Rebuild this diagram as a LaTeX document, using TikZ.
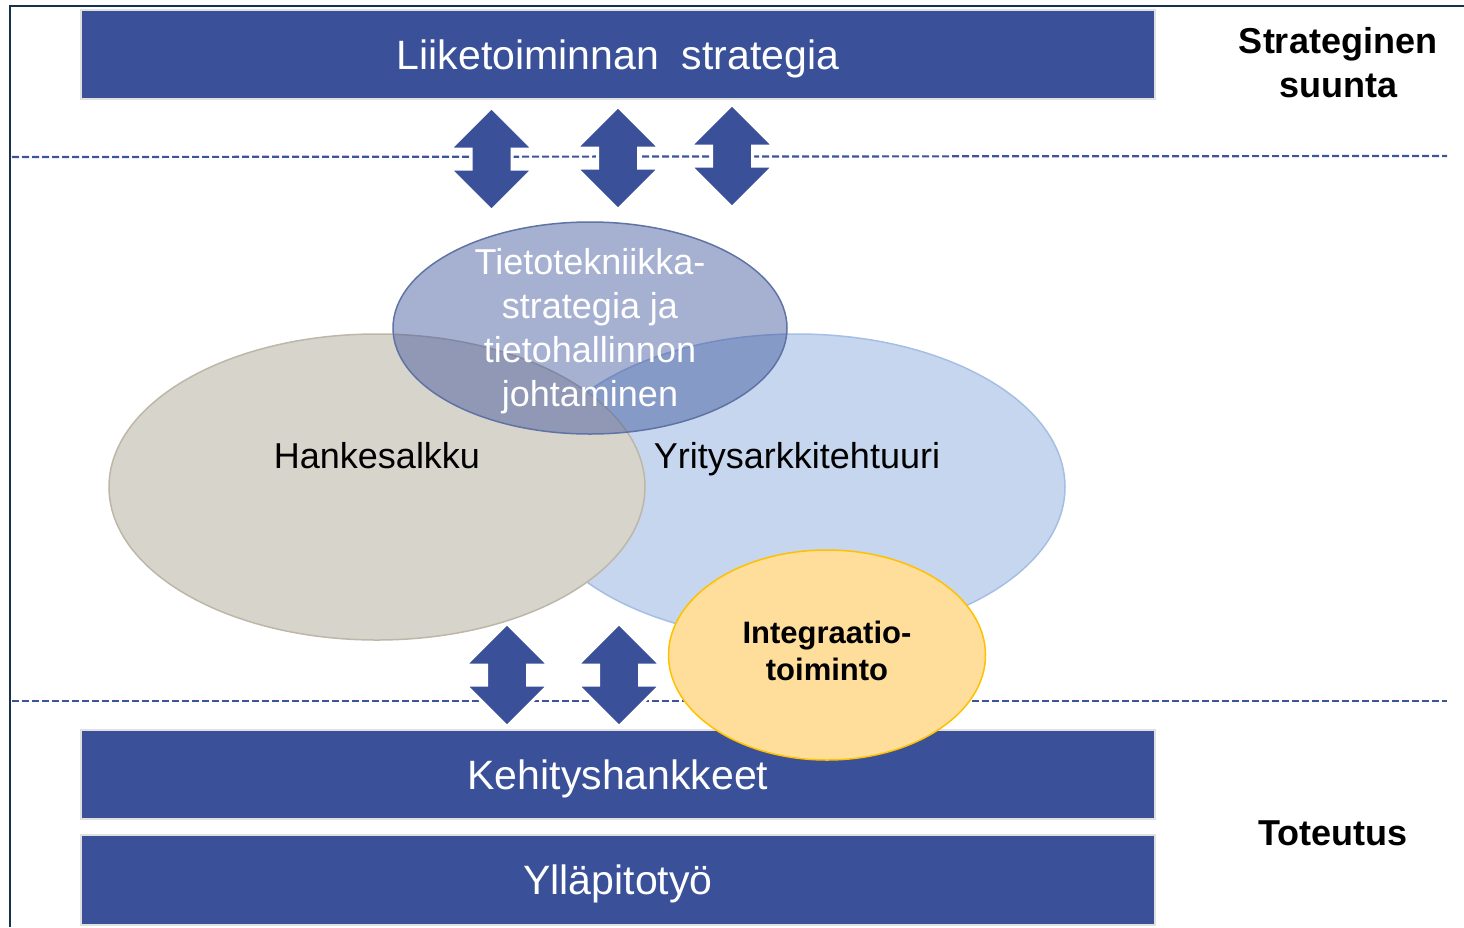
\documentclass[tikz,border=0pt]{standalone}
\usepackage{fontspec}
\setmainfont{Liberation Sans}
\usetikzlibrary{shapes.geometric,shapes.arrows}
\definecolor{barblue}{RGB}{58,81,153}
\definecolor{framenavy}{RGB}{23,50,80}
\definecolor{dashblue}{RGB}{62,84,152}
\definecolor{hankegray}{RGB}{215,212,204}
\definecolor{hankeline}{RGB}{190,183,168}
\definecolor{ealight}{RGB}{198,214,238}
\definecolor{ealine}{RGB}{165,190,228}
\definecolor{tietoline}{RGB}{95,115,165}
\definecolor{integfill}{RGB}{255,222,155}
\definecolor{integline}{RGB}{255,192,0}

\begin{document}
\begin{tikzpicture}[x=1pt, y=-1pt,
    bar/.style={rectangle, fill=barblue, draw=black!12, line width=2pt,
        minimum width=1074pt, inner sep=0pt, text=white, text depth=0pt,
        font=\fontsize{41}{49}\selectfont},
    updown/.style={double arrow, rotate=90, fill=barblue, draw=white,
        line width=3pt, minimum height=103pt, inner xsep=0pt, inner ysep=19pt,
        double arrow head extend=21pt},
    blob/.style={ellipse, inner sep=0pt, line width=1.5pt},
    level/.style={dashblue, line width=2.2pt, dash pattern=on 7pt off 3pt},
    side/.style={align=center, font=\fontsize{36}{44}\selectfont\bfseries}]
    \useasboundingbox (0,0) rectangle (1464,927);
    \draw[framenavy, line width=2.5pt] (10,927) -- (10,6) -- (1464,6);

    % strategic level
    \node[bar, minimum height=89pt] (strategy) at (618,54.5) {Liiketoiminnan\ \ strategia};
    \node[side] (strat) at (1338,63) {Strateginen\\suunta};

    % ellipses
    \node[blob, fill=ealight, draw=ealine, minimum width=536pt, minimum height=306pt] (ea) at (797,487) {};
    \node[blob, fill=hankegray, draw=hankeline, minimum width=536pt, minimum height=306pt] (portfolio) at (377,487) {};
    \node[blob, fill=barblue, fill opacity=0.45, draw=tietoline, minimum width=394pt, minimum height=212pt] (ict) at (590,328) {};
    \node[font=\fontsize{36}{44}\selectfont] at ([yshift=31pt]portfolio.center) (portfoliotxt) {Hankesalkku};
    \node[font=\fontsize{36}{44}\selectfont] at ([yshift=28pt]ea.center) (eatxt) {Yritysarkkitehtuuri};
    \node[text=white, align=center, font=\fontsize{36}{44}\selectfont] at ([yshift=-3pt]ict.center) (icttxt)
        {Tietotekniikka-\\strategia ja\\tietohallinnon\\johtaminen};

    % level borders
    \coordinate (l1a) at (12,157);  \coordinate (l1b) at (1447,156);
    \coordinate (l2a) at (12,701);  \coordinate (l2b) at (1447,701);
    \draw[level] (l1a) -- (l1b);
    \draw[level] (l2a) -- (l2b);

    % two-way arrows
    \node[updown] (up1) at (491.5,159) {};
    \node[updown] (up2) at (618,158) {};
    \node[updown] (up3) at (732,156) {};
    \node[updown] (down1) at (507,675) {};
    \node[updown] (down2) at (619,675) {};

    % implementation level
    \node[bar, minimum height=89pt] (dev) at (618,774.5) {Kehityshankkeet};
    \node[bar, minimum height=90pt] (maint) at (618,880) {Ylläpitotyö};
    \node[side] (impl) at (1333,833) {Toteutus};

    \node[blob, fill=integfill, draw=integline, minimum width=317pt, minimum height=210pt] (integ) at (827,655) {};
    \node[align=center, font=\fontsize{31}{37}\selectfont\bfseries] at ([yshift=4pt]integ.center) (integtxt)
        {Integraatio-\\toiminto};
\end{tikzpicture}
\end{document}
